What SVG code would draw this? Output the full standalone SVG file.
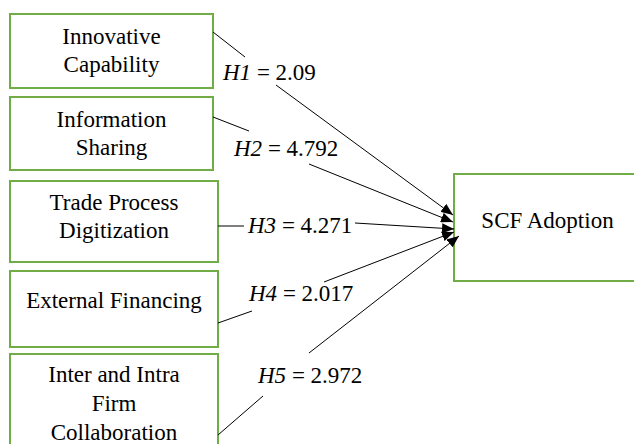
<svg xmlns="http://www.w3.org/2000/svg" width="634" height="444" viewBox="0 0 634 444">
<defs>
<marker id="arr" markerUnits="userSpaceOnUse" markerWidth="13" markerHeight="10" refX="12" refY="5" orient="auto">
<path d="M0,0 L12,5 L0,10 Z" fill="#000"/>
</marker>
</defs>
<style>
text{font-family:'Liberation Serif','Times New Roman','DejaVu Serif',Times,serif;font-size:23px;fill:#000}
.box{fill:#fff;stroke:#70AD47;stroke-width:2}
.t{text-anchor:middle}
.c{stroke:#000;stroke-width:1;fill:none}
.a{stroke:#000;stroke-width:1;fill:none;marker-end:url(#arr)}
</style>
<rect width="634" height="444" fill="#fff"/>
<g id="n1"><rect class="box" x="10" y="14" width="203" height="74"/><text class="t" x="111.5" y="44">Innovative</text><text class="t" x="111.5" y="72">Capability</text></g>
<g id="n2"><rect class="box" x="10" y="97" width="203" height="73"/><text class="t" x="111.5" y="127">Information</text><text class="t" x="111.5" y="155">Sharing</text></g>
<g id="n3"><rect class="box" x="10" y="181" width="208" height="81"/><text class="t" x="114" y="210">Trade Process</text><text class="t" x="114" y="238">Digitization</text></g>
<g id="n4"><rect class="box" x="10" y="271" width="208" height="76"/><text class="t" x="114" y="308">External Financing</text></g>
<g id="n5"><rect class="box" x="10" y="354" width="208" height="100"/><text class="t" x="114" y="382">Inter and Intra</text><text class="t" x="114" y="411">Firm</text><text class="t" x="114" y="440">Collaboration</text></g>
<g id="n6"><rect class="box" x="454" y="174" width="187" height="107"/><text class="t" x="547.5" y="228">SCF Adoption</text></g>
<g id="connectors">
<line class="c" x1="213" y1="32" x2="245" y2="57"/>
<line class="a" x1="276" y1="85" x2="453" y2="215"/>
<line class="c" x1="213" y1="117" x2="249" y2="131"/>
<line class="a" x1="309" y1="164" x2="453" y2="222"/>
<line class="c" x1="218" y1="226" x2="244" y2="226"/>
<line class="a" x1="355" y1="223" x2="454" y2="229"/>
<line class="c" x1="218" y1="323" x2="252" y2="311"/>
<line class="a" x1="324" y1="282" x2="454" y2="232"/>
<line class="c" x1="218" y1="435" x2="263" y2="396"/>
<line class="a" x1="309" y1="353" x2="459" y2="236"/>
</g>
<g id="labels">
<text x="223" y="80"><tspan font-style="italic">H1</tspan> = 2.09</text>
<text x="234" y="156"><tspan font-style="italic">H2</tspan> = 4.792</text>
<text x="248" y="233"><tspan font-style="italic">H3</tspan> = 4.271</text>
<text x="249" y="301"><tspan font-style="italic">H4</tspan> = 2.017</text>
<text x="258" y="383"><tspan font-style="italic">H5</tspan> = 2.972</text>
</g>
</svg>
